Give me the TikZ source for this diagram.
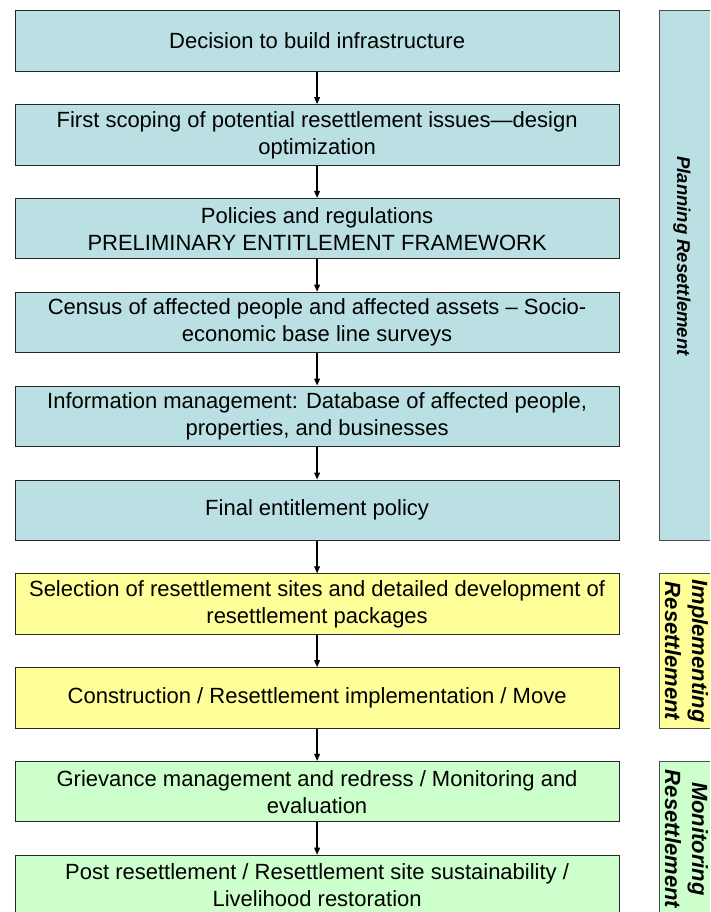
\documentclass[tikz,border=0pt]{standalone}
\usepackage{fontspec}
\setmainfont{Liberation Sans}
\usetikzlibrary{arrows.meta}
\definecolor{bluefill}{HTML}{BBE0E3}
\definecolor{yelfill}{HTML}{FFFF99}
\definecolor{grnfill}{HTML}{CCFFCC}
\begin{document}
\begin{tikzpicture}[x=1pt,y=-1pt,
  stagebox/.style={draw=black!85, line width=1pt, minimum width=604.2pt, minimum height=60.5pt,
    align=center, inner sep=0pt, anchor=north west, font=\fontsize{22}{27}\selectfont},
  phasebox/.style={draw=black!70, line width=1pt, minimum width=56pt, anchor=north west, inner sep=0pt},
  phasetext/.style={rotate=-90, align=center, inner sep=0pt, font=\fontsize{22}{27}\selectfont\bfseries\itshape},
  arr/.style={draw=black, line width=1.3pt, -{Triangle[length=7pt,width=5.8pt]}}
]
\useasboundingbox (0,0) rectangle (710,912);
\begin{scope}
\clip (0,0) rectangle (710,912);
% main boxes
\node[stagebox, fill=bluefill] (b1) at (14.5,10.3) {Decision to build infrastructure};
\node[stagebox, fill=bluefill] (b2) at (14.5,104.1) {First scoping of potential resettlement issues---design\\optimization};
\node[stagebox, fill=bluefill] (b3) at (14.5,197.9) {Policies and regulations\\PRELIMINARY ENTITLEMENT FRAMEWORK};
\node[stagebox, fill=bluefill] (b4) at (14.5,291.7) {Census of affected people and affected assets -- Socio-\\economic base line surveys};
\node[stagebox, fill=bluefill] (b5) at (14.5,385.5) {Information management: Database of affected people,\\properties, and businesses};
\node[stagebox, fill=bluefill] (b6) at (14.5,479.5) {Final entitlement policy};
\node[stagebox, fill=yelfill] (b7) at (14.5,573.3) {Selection of resettlement sites and detailed development of\\resettlement packages};
\node[stagebox, fill=yelfill] (b8) at (14.5,667.1) {Construction / Resettlement implementation / Move};
\node[stagebox, fill=grnfill] (b9) at (14.5,760.9) {Grievance management and redress / Monitoring and\\evaluation};
\node[stagebox, fill=grnfill] (b10) at (14.5,854.7) {Post resettlement / Resettlement site sustainability /\\Livelihood restoration};
% arrows
\draw[arr] (b1.south) -- (b2.north);
\draw[arr] (b2.south) -- (b3.north);
\draw[arr] (b3.south) -- (b4.north);
\draw[arr] (b4.south) -- (b5.north);
\draw[arr] (b5.south) -- (b6.north);
\draw[arr] (b6.south) -- (b7.north);
\draw[arr] (b7.south) -- (b8.north);
\draw[arr] (b8.south) -- (b9.north);
\draw[arr] (b9.south) -- (b10.north);
% phase boxes
\node[phasebox, fill=bluefill, minimum height=530pt] (p1) at (658.5,10.3) {};
\node[phasebox, fill=yelfill, minimum height=155pt] (p2) at (658.5,573.3) {};
\node[phasebox, fill=grnfill, minimum height=155pt] (p3) at (658.5,760.9) {};
\node[phasetext, font=\fontsize{18.5}{22}\selectfont\bfseries\itshape] (t1) at (682,256) {Planning Resettlement};
\node[phasetext] (t2) at (686.5,651) {Implementing\\Resettlement};
\node[phasetext] (t3) at (686.5,839) {Monitoring\\Resettlement};
\end{scope}
\end{tikzpicture}
\end{document}
